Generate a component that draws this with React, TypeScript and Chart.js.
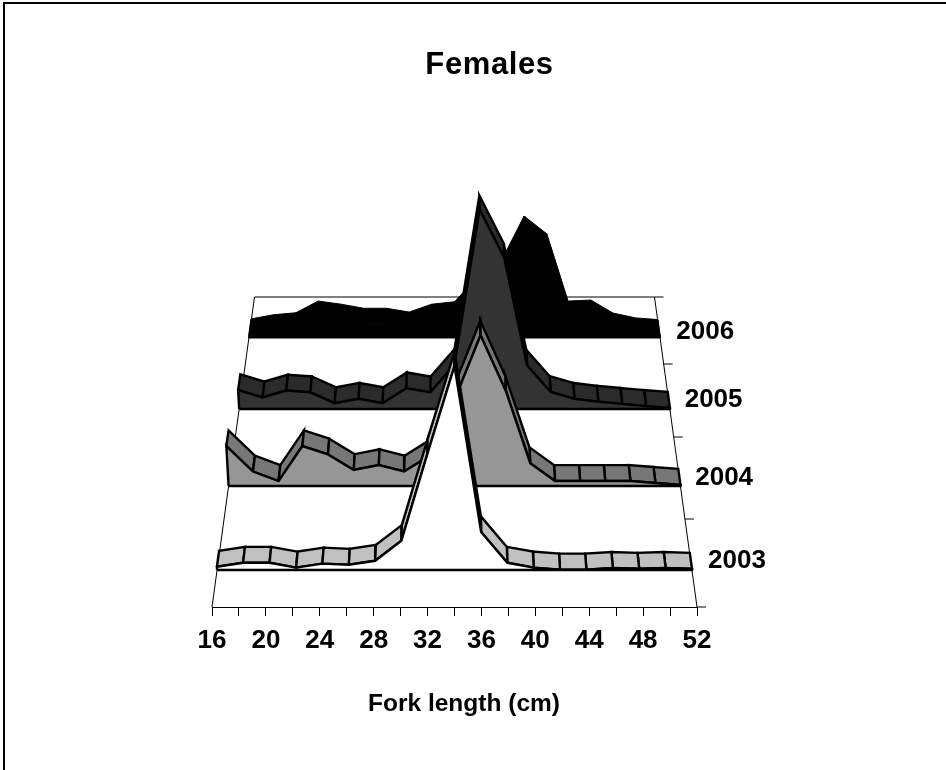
import React, { useEffect, useRef } from "react";
import { Chart, registerables } from "chart.js";

Chart.register(...registerables);

// ---- data (relative frequency per 2 cm fork-length class) ----
const lengths = [16, 18, 20, 22, 24, 26, 28, 30, 32, 34, 36, 38, 40, 42, 44, 46, 48, 50, 52];
const freq2003 = [0.8, 1.8, 1.8, 0.6, 1.6, 1.3, 2.3, 7.3, 29, 51, 9.5, 1.8, 0.6, 0.1, 0.1, 0.5, 0.3, 0.5, 0.3];
const freq2004 = [10.5, 3.8, 1.3, 10.5, 8.3, 4.2, 5.5, 3.8, 7.9, 22.6, 39.6, 24.9, 6.0, 1.3, 1.3, 1.3, 1.3, 0.8, 0.3];
const freq2005 = [5.2, 3.2, 5.1, 4.6, 1.6, 2.8, 1.6, 5.7, 4.6, 12.2, 55, 41.7, 12, 4.7, 2.8, 2, 1.4, 0.8, 0.3];
const freq2006 = [0.9, 2.1, 2.7, 6.1, 5.2, 4, 4, 2.9, 5.2, 5.9, 13, 17.3, 30.9, 25.7, 6.1, 6.4, 2.6, 1.2, 0.7];
const years = ["2003", "2004", "2005", "2006"];
const titleText = "Females";
const axisTitleText = "Fork length (cm)";
const tickStep = 2;
const labelStep = 4;

// ---- 3-D projection onto the library's x (cm) and y (height units) scales ----
const series = [
  { name: years[0], values: freq2003, lift: 9.25, front: "#ffffff", ribbon: "#c0c0c0", labelDy: 2.25, labelDx: 1.2, stroke: 2.4 },
  { name: years[1], values: freq2004, lift: 30.25, front: "#969696", ribbon: "#777777", labelDy: 2, labelDx: 1.1, stroke: 2.4 },
  { name: years[2], values: freq2005, lift: 49.5, front: "#333333", ribbon: "#2b2b2b", labelDy: 2.25, labelDx: 1.1, stroke: 2.4 },
  { name: years[3], values: freq2006, lift: 67.25, front: "#000000", ribbon: "#000000", labelDy: 1.5, labelDx: 1.2, stroke: 1 },
];
const floorLifts = [0, 22, 42.5, 60.75, 77.5];
const ribbonDepth = 4;
const centre = 34;
const backShrink = 0.1753;
const floorDepth = 77.5;
const shear = 0.001;

const scaleAt = (lift: number) => 1 - (backShrink * lift) / floorDepth;
const project = (len: number, value: number, lift: number) => {
  const sc = scaleAt(lift);
  const h = (value * sc) / 0.979;
  return { x: centre + (len - centre) * sc * (1 + shear * h), y: lift + h };
};

const line = (data: { x: number; y: number }[], width: number, fill?: string) => ({
  data,
  showLine: true,
  pointRadius: 0,
  borderColor: "#000000",
  borderWidth: width,
  borderJoinStyle: width > 1 ? ("miter" as const) : ("round" as const),
  borderCapStyle: "butt" as const,
  backgroundColor: fill ?? "transparent",
  fill: fill ? ("shape" as const) : false,
  tension: 0,
  clip: false as const,
});

function buildDatasets() {
  const paint: any[] = [];
  const first = lengths[0];
  const last = lengths[lengths.length - 1];
  // floor frame
  const top = floorLifts[floorLifts.length - 1];
  paint.push(line([project(first, 0, 0), project(first, 0, top), project(last, 0, top), project(last, 0, 0)], 1));
  floorLifts.forEach((l) => {
    const p = project(last, 0, l);
    paint.push(line([p, { x: p.x + 0.67, y: p.y }], 1));
  });
  // ribbons and front walls, back to front
  [...series].reverse().forEach((s) => {
    const n = s.values.length;
    const front = s.values.map((v, i) => project(lengths[i], v, s.lift));
    const back = s.values.map((v, i) => project(lengths[i], v, s.lift + ribbonDepth));
    const peak = s.values.indexOf(Math.max(...s.values));
    const order: number[] = [];
    for (let i = 0; i < peak; i++) order.push(i);
    for (let i = n - 2; i >= peak; i--) order.push(i);
    order.forEach((i) => {
      paint.push(line([front[i], front[i + 1], back[i + 1], back[i], front[i]], s.stroke, s.ribbon));
    });
    const a = project(first, 0, s.lift);
    const b = project(last, 0, s.lift);
    paint.push(line([a, ...front, b, a], s.stroke, s.front));
  });
  return paint.reverse();
}

const texts = {
  id: "texts",
  afterDatasetsDraw(chart: any) {
    const { ctx, scales } = chart;
    ctx.save();
    ctx.fillStyle = "#000";
    ctx.textBaseline = "middle";
    ctx.textAlign = "left";
    ctx.font = 'bold 26px "Liberation Sans"';
    series.forEach((s) => {
      const p = project(52, 0, s.lift);
      ctx.fillText(s.name, scales.x.getPixelForValue(p.x + s.labelDx), scales.y.getPixelForValue(p.y + s.labelDy));
    });
    ctx.textAlign = "center";
    ctx.font = 'bold 31px "Liberation Sans"';
    ctx.letterSpacing = "0.6px";
    ctx.fillText(titleText, 489.5, 65.5);
    ctx.font = 'bold 24.5px "Liberation Sans"';
    ctx.letterSpacing = "0px";
    ctx.fillText(axisTitleText, 464, 704);
    ctx.restore();
  },
};

const frame = {
  id: "frame",
  beforeDraw(chart: any) {
    const { ctx, width, height } = chart;
    ctx.save();
    ctx.fillStyle = "#fff";
    ctx.fillRect(0, 0, width, height);
    ctx.strokeStyle = "#000";
    ctx.lineWidth = 2;
    ctx.beginPath();
    ctx.moveTo(4, height + 5);
    ctx.lineTo(4, 3);
    ctx.lineTo(width + 5, 3);
    ctx.stroke();
    ctx.restore();
  },
};

export default function App() {
  const ref = useRef<HTMLCanvasElement>(null);
  useEffect(() => {
    if (!ref.current) return;
    const chart = new Chart(ref.current, {
      type: "scatter",
      data: { datasets: buildDatasets() },
      plugins: [frame, texts],
      options: {
        animation: false,
        responsive: false,
        events: [],
        layout: { padding: { left: 212, right: 249, top: 120, bottom: 0 } },
        plugins: {
          legend: { display: false },
          tooltip: { enabled: false },
          title: { display: false },
        },
        scales: {
          x: {
            type: "linear",
            min: lengths[0],
            max: lengths[lengths.length - 1],
            afterFit: (s: any) => {
              s.height = 163;
            },
            ticks: {
              stepSize: tickStep,
              autoSkip: false,
              maxRotation: 0,
              color: "#000",
              padding: 9,
              font: { family: "Liberation Sans", weight: "bold", size: 26 },
              callback: (v: any) => (Number(v) % labelStep === 0 ? String(v) : ""),
            },
            grid: { drawOnChartArea: false, drawTicks: true, tickLength: 9, color: "#000", lineWidth: 1 },
            border: { color: "#000", width: 1 },
          },
          y: { type: "linear", display: false, min: 0, max: 121.75 },
        },
      } as any,
    });
    return () => chart.destroy();
  }, []);
  return (
    <canvas
      ref={ref}
      width={946}
      height={770}
      style={{ position: "absolute", left: 0, top: 0, display: "block", width: 946, height: 770 }}
    />
  );
}
